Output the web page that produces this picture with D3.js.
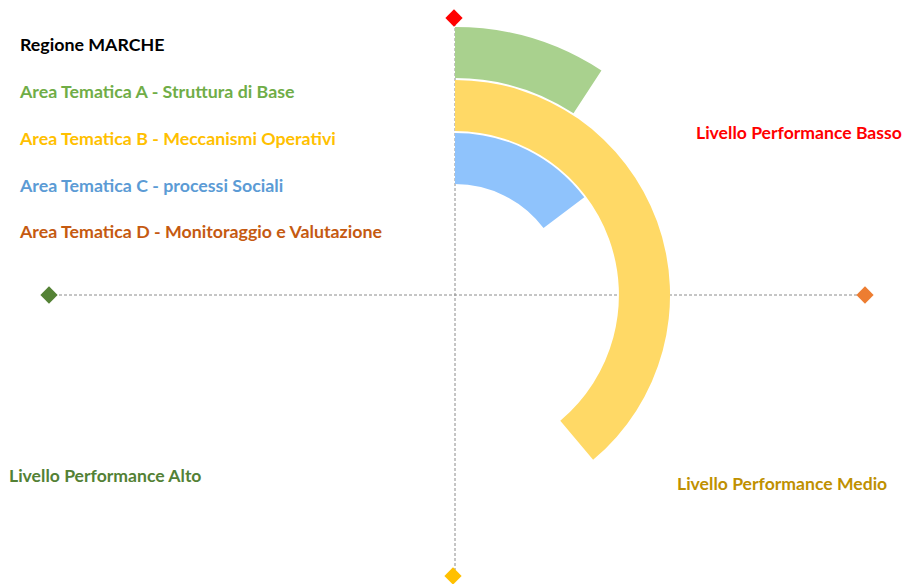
<!DOCTYPE html>
<html>
<head>
<meta charset="utf-8">
<script src="https://cdn.jsdelivr.net/npm/d3@7"></script>
<style>
  body { margin: 0; background: #fff; }
  svg text { font-family: Lato, "Open Sans", sans-serif; font-weight: bold; }
</style>
</head>
<body>
<div id="chart"></div>
<script>
// rings from outside to inside
const areas = ['Area Tematica A - Struttura di Base', 'Area Tematica B - Meccanismi Operativi',
  'Area Tematica C - processi Sociali', 'Area Tematica D - Monitoraggio e Valutazione'];
const values = [9.2, 38.9, 14.7, 0];   // % of full circle
const ringColors = ['#a9d18e', '#ffd966', '#8fc3fc', '#f4b183'];
const textColors = ['#70ad47', '#ffc000', '#5b9bd5', '#c55a11'];
const levels = ['Livello Performance Basso', 'Livello Performance Medio', 'Livello Performance Alto'];
const levelColors = ['#ff0000', '#bf9000', '#538135'];
const title = 'Regione MARCHE';

const width = 906, height = 584;
const cx = 455, cy = 295;

const svg = d3.select('#chart').append('svg')
  .attr('width', width)
  .attr('height', height);

// axes lines
const axis = svg.append('g').attr('stroke', '#8c8c8c').attr('stroke-width', 1).attr('stroke-dasharray', '3,2');
axis.append('line').attr('x1', 49).attr('x2', 865).attr('y1', cy).attr('y2', cy);
axis.append('line').attr('x1', cx).attr('x2', cx).attr('y1', 18).attr('y2', 576);

// rings
let angle = d3.scaleLinear().domain([0, 100]).range([0, 2 * Math.PI]);
let radius = d3.scaleBand().domain(d3.range(4).reverse()).range([58, 268]).paddingInner(0.035);

let arc = d3.arc()
  .innerRadius(i => radius(i))
  .outerRadius(i => radius(i) + radius.bandwidth())
  .startAngle(0)
  .endAngle(i => angle(values[i]));

svg.append('g')
  .attr('transform', `translate(${cx}, ${cy})`)
  .selectAll('path')
  .data(d3.range(4).filter(i => values[i] > 0))
  .join('path')
  .attr('d', arc)
  .attr('fill', i => ringColors[i]);

// diamonds at the axis ends
const diamond = d3.symbol().type(d3.symbolDiamond2).size(190);
const marks = [
  { x: 454, y: 18, c: '#ff0000' },
  { x: 865, y: cy, c: '#ed7d31' },
  { x: 453, y: 576, c: '#ffc000' },
  { x: 49, y: cy, c: '#548235' }
];
svg.selectAll('path.mark')
  .data(marks)
  .join('path')
  .classed('mark', true)
  .attr('d', diamond())
  .attr('fill', d => d.c)
  .attr('transform', d => `translate(${d.x}, ${d.y})`);

// legend
svg.append('text').attr('x', 20).attr('y', 51).attr('font-size', 17.8).attr('fill', '#000').text(title);
svg.selectAll('text.area')
  .data(areas)
  .join('text')
  .classed('area', true)
  .attr('x', 20)
  .attr('y', (d, i) => 98 + i * 46.8)
  .attr('font-size', 17.8)
  .attr('fill', (d, i) => textColors[i])
  .text(d => d);

// level labels
const levelPos = [[696, 139], [677, 490], [9, 482]];
svg.selectAll('text.level')
  .data(levels)
  .join('text')
  .classed('level', true)
  .attr('x', (d, i) => levelPos[i][0])
  .attr('y', (d, i) => levelPos[i][1])
  .attr('font-size', 17.6)
  .attr('fill', (d, i) => levelColors[i])
  .text(d => d);
</script>
</body>
</html>
